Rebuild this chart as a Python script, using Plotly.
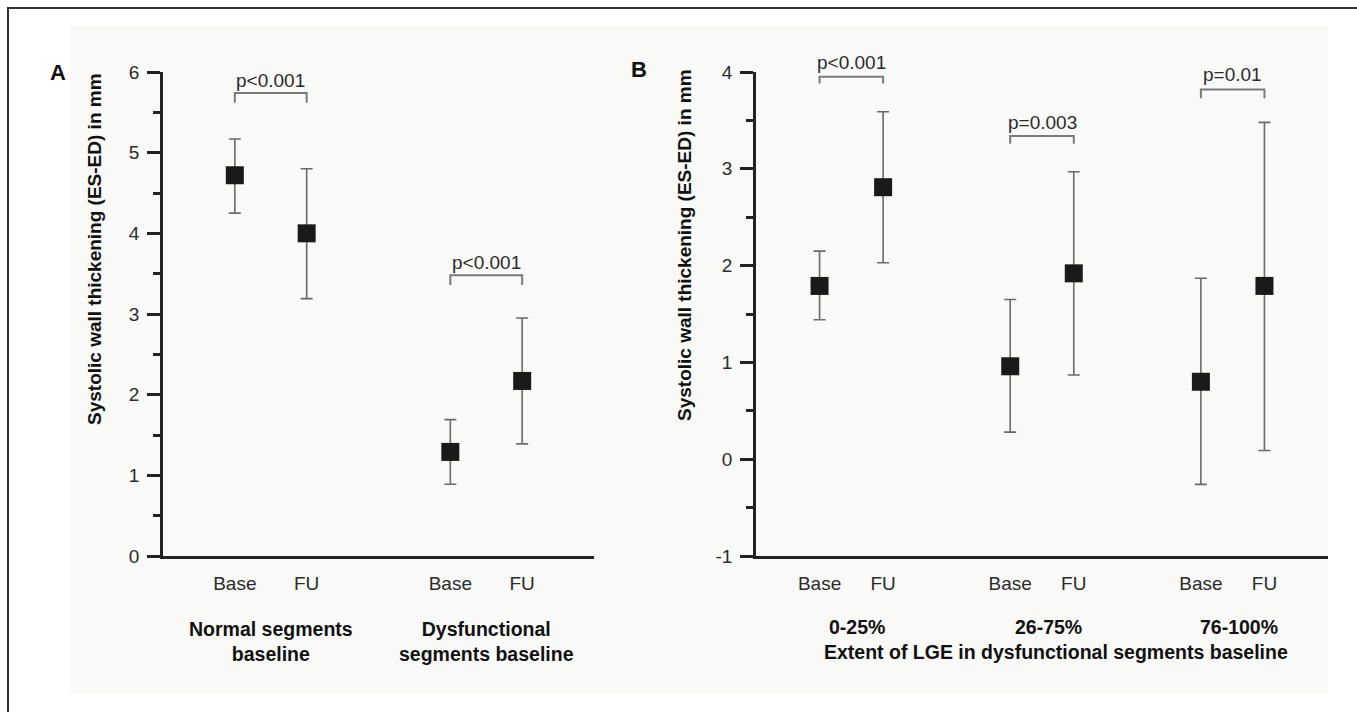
import plotly.graph_objects as go

# ---------------- data ----------------
# Panel A
a_groups = ["Normal segments<br>baseline", "Dysfunctional<br>segments baseline"]
a_pos = [1, 2, 4, 5]
a_ticklabels = ["Base", "FU", "Base", "FU"]
a_mean = [4.72, 4.00, 1.29, 2.17]
a_upper = [5.17, 4.80, 1.69, 2.95]
a_lower = [4.25, 3.19, 0.89, 1.39]
a_pvals = ["p<0.001", "p<0.001"]
a_bracket_pairs = [(1, 2), (4, 5)]
a_bracket_top = [5.74, 3.48]
a_bracket_end = [5.62, 3.36]
a_ptext_y = [5.90, 3.64]
a_yrange = [0, 6]
a_yticks = [0, 1, 2, 3, 4, 5, 6]

# Panel B
b_groups = ["0-25%", "26-75%", "76-100%"]
b_pos = [1, 2, 4, 5, 7, 8]
b_ticklabels = ["Base", "FU", "Base", "FU", "Base", "FU"]
b_mean = [1.79, 2.81, 0.96, 1.92, 0.80, 1.79]
b_upper = [2.15, 3.59, 1.65, 2.97, 1.87, 3.48]
b_lower = [1.44, 2.03, 0.28, 0.87, -0.26, 0.09]
b_pvals = ["p<0.001", "p=0.003", "p=0.01"]
b_bracket_pairs = [(1, 2), (4, 5), (7, 8)]
b_bracket_top = [3.95, 3.34, 3.82]
b_bracket_end = [3.88, 3.26, 3.73]
b_ptext_y = [4.10, 3.48, 3.97]
b_yrange = [-1, 4]
b_yticks = [-1, 0, 1, 2, 3, 4]

y_title = "Systolic wall thickening (ES-ED) in mm"
b_xtitle = "Extent of LGE in dysfunctional segments baseline"

# ---------------- layout helpers ----------------
W, H = 1357, 712
def px(x):
    return x / W
def py(y):
    return 1 - y / H

FONT = "Liberation Sans, Arial, sans-serif"
TXT = "#2b2b2b"
ERR = "#6a6a6a"
BRK = "#7a7a7a"
AX = "#222222"
LBL = 19.5

fig = go.Figure()

def add_panel(xa, ya, yrange, pos, mean, upper, lower, pairs, btop, bend, pvals, ptext_y):
    fig.add_trace(go.Scatter(
        x=pos, y=mean, mode="markers", xaxis=xa, yaxis=ya,
        marker=dict(symbol="square", size=18, color="#1a1a1a", line=dict(width=0)),
        error_y=dict(type="data", symmetric=False,
                     array=[u - m for u, m in zip(upper, mean)],
                     arrayminus=[m - l for m, l in zip(mean, lower)],
                     color=ERR, thickness=1.6, width=6),
        showlegend=False, hoverinfo="skip"))
    for (x0, x1), t, e, p, ty in zip(pairs, btop, bend, pvals, ptext_y):
        fig.add_trace(go.Scatter(
            x=[x0, x0, x1, x1], y=[e, t, t, e], mode="lines", xaxis=xa, yaxis=ya,
            line=dict(color=BRK, width=2), showlegend=False, hoverinfo="skip",
            cliponaxis=False))
        frac = (ty - yrange[0]) / (yrange[1] - yrange[0])
        fig.add_annotation(x=(x0 + x1) / 2, y=frac, xref=xa, yref=ya + " domain", text=p,
                           xanchor="center", yanchor="middle",
                           showarrow=False, font=dict(family=FONT, size=19, color=TXT))

add_panel("x", "y", a_yrange, a_pos, a_mean, a_upper, a_lower, a_bracket_pairs,
          a_bracket_top, a_bracket_end, a_pvals, a_ptext_y)
add_panel("x2", "y2", b_yrange, b_pos, b_mean, b_upper, b_lower, b_bracket_pairs,
          b_bracket_top, b_bracket_end, b_pvals, b_ptext_y)

xcommon = dict(showgrid=False, zeroline=False, showline=True, linecolor=AX, linewidth=2.5,
               ticks="", tickfont=dict(family=FONT, size=19, color=TXT),
               ticklabelstandoff=8, fixedrange=True, automargin=False)
ycommon = dict(showgrid=False, zeroline=False, showline=True, linecolor=AX, linewidth=2.5,
               ticks="outside", ticklen=13, tickwidth=2.5, tickcolor=AX,
               minor=dict(dtick=0.5, ticks="outside", ticklen=7, tickwidth=2.5, tickcolor=AX),
               tickfont=dict(family=FONT, size=19, color=TXT), ticklabelstandoff=4,
               fixedrange=True, automargin=False)

fig.update_layout(
    width=W, height=H, autosize=False,
    margin=dict(l=0, r=0, t=0, b=0, pad=0),
    paper_bgcolor="white", plot_bgcolor="rgba(0,0,0,0)",
    xaxis=dict(domain=[px(163), px(594)], range=[0, 6], tickvals=a_pos,
               ticktext=a_ticklabels, anchor="y", **xcommon),
    yaxis=dict(domain=[py(556), py(72)], range=a_yrange, anchor="x",
               tickvals=a_yticks, ticktext=[str(v) for v in a_yticks], **ycommon),
    xaxis2=dict(domain=[px(756), px(1328)], range=[0, 9], tickvals=b_pos,
                ticktext=b_ticklabels, anchor="y2", **xcommon),
    yaxis2=dict(domain=[py(556), py(72)], range=b_yrange, anchor="x2",
                tickvals=b_yticks, ticktext=[str(v) for v in b_yticks], **ycommon),
)

# background panel and outer frame
fig.add_shape(type="rect", xref="paper", yref="paper", x0=px(70), x1=px(1328),
              y0=py(693), y1=py(26), fillcolor="#f9f9f8", line=dict(width=0), layer="below")
fig.add_shape(type="rect", xref="paper", yref="paper", x0=px(8), x1=px(1375),
              y0=py(730), y1=py(8), fillcolor="rgba(0,0,0,0)", line=dict(color="#333", width=2))

def label(x, y, text, size, color="#111", angle=0, **kw):
    fig.add_annotation(x=x, y=y, text=text, showarrow=False, textangle=angle,
                       xanchor="center", yanchor="middle",
                       font=dict(family=FONT, size=size, color=color), **kw)

# panel letters
label(px(58), py(73), "<b>A</b>", 22, xref="paper", yref="paper")
label(px(639), py(69), "<b>B</b>", 22, xref="paper", yref="paper")

# y-axis titles
label(px(94), py(249), "<b>" + y_title + "</b>", 19, angle=-90, xref="paper", yref="paper")
label(px(684), py(245), "<b>" + y_title + "</b>", 19, angle=-90, xref="paper", yref="paper")

# group labels panel A
for g, gx in zip(a_groups, [1.5, 4.5]):
    label(gx, py(641), "<b>" + g + "</b>", LBL, xref="x", yref="paper")
# group labels panel B
for g, gx in zip(b_groups, [1.5, 4.5, 7.5]):
    label(gx, py(627), "<b>" + g + "</b>", LBL, xref="x2", yref="paper", xshift=6)
label(4.5, py(652), "<b>" + b_xtitle + "</b>", LBL, xref="x2", yref="paper", xshift=14)

fig.write_html("out.html", config={"displayModeBar": False},
               post_script="document.body.style.margin='0px';document.body.style.overflow='hidden';")
